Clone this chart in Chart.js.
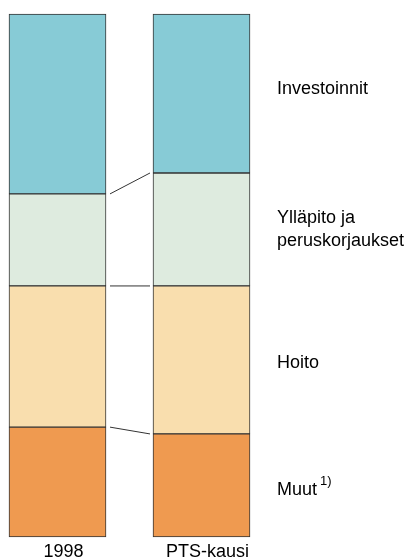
<!DOCTYPE html>
<html>
<head>
<meta charset="utf-8">
<script src="https://cdn.jsdelivr.net/npm/chart.js@4"></script>
<style>
  html, body { margin: 0; padding: 0; background: #fff; }
  #wrap { width: 407px; height: 559px; }
</style>
</head>
<body>
<div id="wrap"><canvas id="bar-chart"></canvas></div>
<script>
// shares (%) of each column, bottom to top
const categories = ['1998', 'PTS-kausi'];
const muut = [21.0, 19.7];
const hoito = [27.0, 28.3];
const yllapito = [17.6, 21.6];
const investoinnit = [34.4, 30.4];

const seriesLabels = [['Muut'], ['Hoito'], ['Ylläpito ja', 'peruskorjaukset'], ['Investoinnit']];
const colors = ['#EF9A50', '#F9DEAE', '#DEEBDF', '#87CBD6'];

const connectors = {
	id: 'connectors',
	afterDatasetsDraw(chart) {
		const ctx = chart.ctx;
		const n = chart.data.datasets.length;
		const nudge = [5, 3, 0, -4]; // small shifts of the side labels
		ctx.save();
		ctx.strokeStyle = '#333';
		ctx.lineWidth = 1;
		// lines between segment boundaries
		for (let d = 0; d < n - 1; d++) {
			const meta = chart.getDatasetMeta(d);
			const a = meta.data[0], b = meta.data[1];
			ctx.beginPath();
			ctx.moveTo(a.x + a.width / 2 + 4, a.y);
			ctx.lineTo(b.x - b.width / 2 - 3, b.y);
			ctx.stroke();
		}
		// labels right of the second column
		ctx.fillStyle = '#000';
		ctx.textBaseline = 'middle';
		ctx.textAlign = 'left';
		for (let d = 0; d < n; d++) {
			const el = chart.getDatasetMeta(d).data[1];
			const x = el.x + el.width / 2 + 27;
			const mid = (el.y + el.base) / 2 + nudge[d];
			const lines = seriesLabels[d];
			ctx.font = '18px "Liberation Sans", Arial, sans-serif';
			lines.forEach((t, k) => {
				const y = mid + (k - (lines.length - 1) / 2) * 23;
				ctx.fillText(t, x, y);
				if (d === 0) {
					const w = ctx.measureText(t).width;
					ctx.font = '13px "Liberation Sans", Arial, sans-serif';
					ctx.fillText('1)', x + w + 3, y - 9);
				}
			});
		}
		ctx.restore();
	}
};

new Chart(document.getElementById('bar-chart'), {
	type: 'bar',
	data: {
		labels: categories,
		datasets: [
			{ label: 'Muut', data: muut, backgroundColor: colors[0], clip: false },
			{ label: 'Hoito', data: hoito, backgroundColor: colors[1], clip: false },
			{ label: 'Ylläpito ja peruskorjaukset', data: yllapito, backgroundColor: colors[2], clip: false },
			{ label: 'Investoinnit', data: investoinnit, backgroundColor: colors[3], clip: false }
		]
	},
	options: {
		responsive: true,
		maintainAspectRatio: false,
		animation: false,
		layout: { padding: { top: 14, bottom: 0, left: 57.5, right: 205.5 } },
		datasets: {
			bar: {
				barThickness: 97,
				borderColor: '#333',
				borderWidth: 1,
				borderSkipped: false
			}
		},
		plugins: {
			legend: { display: false },
			tooltip: { enabled: false }
		},
		scales: {
			x: {
				stacked: true,
				offset: false,
				grid: { display: false, drawTicks: true, tickLength: 8 },
				border: { display: false },
				ticks: {
					color: '#000',
					padding: 0,
					labelOffset: 6,
					maxRotation: 0,
					autoSkip: false,
					font: { family: '"Liberation Sans", Arial, sans-serif', size: 18, lineHeight: 0.78 }
				}
			},
			y: {
				stacked: true,
				min: 0,
				max: 100,
				display: false
			}
		}
	},
	plugins: [connectors]
});
</script>
</body>
</html>
